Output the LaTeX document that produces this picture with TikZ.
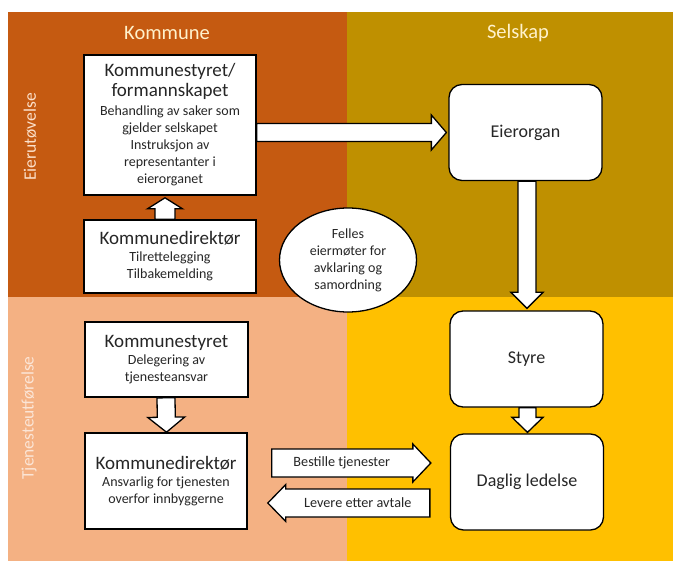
\documentclass[tikz,border=0pt]{standalone}
\usepackage{fontspec}
\setmainfont{Carlito}
\usetikzlibrary{
  positioning,
  shapes.geometric,
  calc,
}
\definecolor{kommuneTop}{HTML}{C55A11}
\definecolor{selskapTop}{HTML}{BF9000}
\definecolor{kommuneLow}{HTML}{F4B183}
\definecolor{selskapLow}{HTML}{FFC000}
\definecolor{headText}{HTML}{FFF2CC}
\definecolor{sideTop}{HTML}{FCE0CA}
\definecolor{sideLow}{HTML}{FBE5D6}
\definecolor{ink}{HTML}{262626}
\newcommand{\hd}{\fontsize{19}{22}\selectfont}
\tikzset{
  colhead/.style={font=\fontsize{20.5}{24}\selectfont, text=headText},
  sidehead/.style={font=\fontsize{17.5}{20}\selectfont, text=#1, rotate=90},
  kbox/.style={
    rectangle, draw=black, line width=1.6pt, fill=white, text=ink,
    align=center, inner sep=2pt, font=\fontsize{14}{17}\selectfont,
  },
  sbox/.style={
    rectangle, rounded corners=13pt, draw=black, line width=1.3pt,
    fill=white, text=ink, minimum width=153pt, minimum height=96pt,
    font=\fontsize{18}{21}\selectfont,
  },
  meet/.style={
    ellipse, draw=black, line width=1.3pt, fill=white, text=ink,
    align=center, minimum width=137pt, minimum height=104pt,
    inner sep=0pt, font=\fontsize{14}{17}\selectfont,
  },
  % shaft half width, head half width, head length
  blockarrow/.style n args={3}{
    draw=black, line width=1.3pt, fill=white,
    to path={
      let \p1=(\tikztostart), \p2=(\tikztotarget),
          \p3=($(\p2)!#3!(\p1)$) in
      ($(\p1)!#1!90:(\p2)$) -- ($(\p3)!#1!-90:(\p1)$)
      -- ($(\p3)!#2!-90:(\p1)$) -- (\p2) -- ($(\p3)!#2!90:(\p1)$)
      -- ($(\p3)!#1!90:(\p1)$) -- ($(\p1)!#1!-90:(\p2)$) -- cycle
    },
  },
  arrowlabel/.style={text=ink, inner sep=1pt, font=\fontsize{14.2}{17}\selectfont},
}

\begin{document}
\begin{tikzpicture}[x=1pt, y=-1pt]
\useasboundingbox (0,0) rectangle (675,561);

% four fields
\fill[kommuneTop] (8,12) rectangle (347,297);
\fill[selskapTop] (347,12) rectangle (673,297);
\fill[kommuneLow] (8,297) rectangle (347,561);
\fill[selskapLow] (347,297) rectangle (673,561);

\node[colhead] (kommune) at (167,33) {Kommune};
\node[colhead] (selskap) at (518,33) {Selskap};
\node[sidehead=sideTop] (eierut) at (30,137) {Eierutøvelse};
\node[sidehead=sideLow] (tjeneste) at (29,418) {Tjenesteutførelse};

% kommune side
\node[kbox, minimum width=172pt, minimum height=140pt] (styret1) at (170,125)
  {{\hd Kommunestyret/}\\[3pt]{\hd formannskapet}\\[2pt]Behandling av saker som\\
   gjelder selskapet\\Instruksjon av\\representanter i\\eierorganet};
\node[kbox, minimum width=172pt, minimum height=73pt] (dir1) at (170,256.5)
  {{\hd Kommunedirektør}\\Tilrettelegging\\Tilbakemelding};
\node[kbox, minimum width=163pt, minimum height=75pt] (styret2) at (166.5,359.5)
  {{\hd Kommunestyret}\\Delegering av\\tjenesteansvar};
\node[kbox, minimum width=162pt, minimum height=96pt] (dir2) at (166,481)
  {{\hd Kommunedirektør}\\Ansvarlig for tjenesten\\overfor innbyggerne};

% selskap side
\node[sbox] (eierorgan) at (525.5,132.5) {Eierorgan};
\node[sbox] (styre) at (526.5,359) {Styre};
\node[sbox] (daglig) at (527,482) {Daglig ledelse};

\node[meet] (felles) at (348,260)
  {Felles\\eiermøter for\\avklaring og\\samordning};

% block arrows
\draw[blockarrow={10pt}{17.5pt}{11pt}]
  ([xshift=-5pt]dir1.north) to ([xshift=-5pt,yshift=-2pt]styret1.south);
\draw[blockarrow={9pt}{17.5pt}{15pt}]
  ([yshift=-7.5pt]styret1.east) to ([xshift=-2pt]eierorgan.west);
\draw[blockarrow={9pt}{16pt}{16pt}]
  ([xshift=1.5pt]eierorgan.south) to ([xshift=0.5pt,yshift=2pt]styre.north);
\draw[blockarrow={8.5pt}{15.5pt}{15pt}]
  ([xshift=1pt]styre.south) to ([xshift=0.5pt,yshift=1pt]daglig.north);
\draw[blockarrow={9pt}{18.5pt}{15pt}]
  ([xshift=-0.5pt]styret2.south) to (styret2.south |- dir2.north);

\coordinate (bestilleFra) at ([xshift=24pt,yshift=18pt]dir2.east);
\coordinate (bestilleTil) at ([xshift=-19pt,yshift=19pt]daglig.west);
\draw[blockarrow={14pt}{19pt}{18pt}] (bestilleFra) to (bestilleTil);
\node[arrowlabel] (bestille) at ($(bestilleFra)!0.44!(bestilleTil)$)
  {Bestille tjenester};

\coordinate (levereFra) at ([xshift=-20pt,yshift=-21pt]daglig.west);
\coordinate (levereTil) at ([xshift=20pt,yshift=-22pt]dir2.east);
\draw[blockarrow={14pt}{18.5pt}{18pt}] (levereFra) to (levereTil);
\node[arrowlabel] (levere) at ($(levereFra)!0.445!(levereTil)$)
  {Levere etter avtale};

\end{tikzpicture}
\end{document}
